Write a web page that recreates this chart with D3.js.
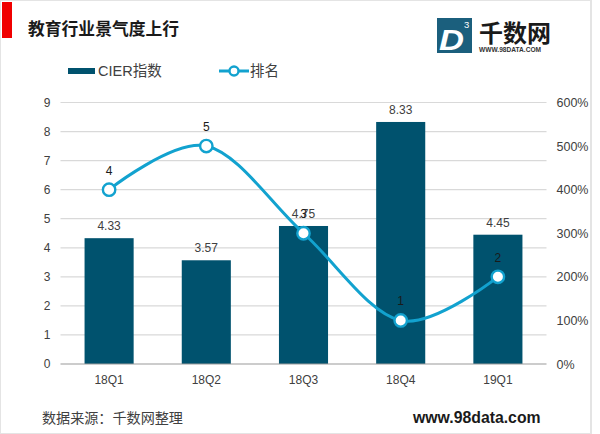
<!DOCTYPE html>
<html>
<head>
<meta charset="utf-8">
<script src="https://cdn.jsdelivr.net/npm/d3@7"></script>
<style>
  body { margin: 0; background: #fff; }
  text { font-family: "Liberation Sans", "Noto Sans CJK SC", sans-serif; fill: #404040; }
</style>
</head>
<body>
<svg id="chart" width="600" height="434"></svg>
<script>
// chart data
var quarters = ["18Q1", "18Q2", "18Q3", "18Q4", "19Q1"];
var cierValues = [4.33, 3.57, 4.75, 8.33, 4.45];
var rankValues = [4, 5, 3, 1, 2];
var rankPct = [400, 500, 300, 100, 200]; // where the rank line sits on the percent axis
var leftTicks = [0, 1, 2, 3, 4, 5, 6, 7, 8, 9];
var rightTicks = [0, 100, 200, 300, 400, 500, 600];

var barColor = "#00526e";
var lineColor = "#12a2cf";

var svg = d3.select("#chart");

// outer frame of the slide
svg.append("rect").attr("x", 0).attr("y", 0).attr("width", 591).attr("height", 434)
  .attr("fill", "none").attr("stroke", "#e4e4e4").attr("stroke-width", 2);

svg.append("rect").attr("x", 2).attr("y", 2).attr("width", 10).attr("height", 36).attr("fill", "#f00000");

svg.append("text").attr("x", 28).attr("y", 35)
  .attr("font-size", 16.8).attr("font-weight", 700).style("fill", "#1a1a1a")
  .text("教育行业景气度上行");

// logo
var logo = svg.append("g");
logo.append("rect").attr("x", 437).attr("y", 18).attr("width", 35).attr("height", 35).attr("fill", "#1b5f7d");
logo.append("text").attr("x", 439).attr("y", 50).attr("font-size", 29).attr("font-weight", 700)
  .attr("font-style", "italic").attr("textLength", 25).attr("lengthAdjust", "spacingAndGlyphs")
  .style("fill", "#fff").text("D");
logo.append("text").attr("x", 464).attr("y", 28).attr("font-size", 9.5).style("fill", "#fff").text("3");
logo.append("text").attr("x", 479).attr("y", 42).attr("font-size", 24).attr("font-weight", 700)
  .style("fill", "#1a1a1a").text("千数网");
logo.append("text").attr("x", 479).attr("y", 52).attr("font-size", 6.6).attr("font-weight", 700)
  .style("fill", "#333").text("WWW.98DATA.COM");

// scales
var x = d3.scaleBand().domain(quarters).range([60.5, 546.5]).paddingInner(0.495).paddingOuter(0.2475);
var y = d3.scaleLinear().domain([0, 9]).range([364, 102.5]);
var y2 = d3.scaleLinear().domain([0, 600]).range([364, 102.5]);
var cx = function(q) { return x(q) + x.bandwidth() / 2; };

// grid
svg.append("g").selectAll("line").data(leftTicks.slice(1)).join("line")
  .attr("x1", 60.5).attr("x2", 546.5)
  .attr("y1", function(d) { return y(d); }).attr("y2", function(d) { return y(d); })
  .attr("stroke", "#d9d9d9").attr("stroke-width", 1.2);

// axes
var leftAxis = svg.append("g").attr("transform", "translate(60.5,0)")
  .call(d3.axisLeft(y).tickValues(leftTicks).tickSize(0).tickPadding(10));
var rightAxis = svg.append("g").attr("transform", "translate(546.5,0)")
  .call(d3.axisRight(y2).tickValues(rightTicks).tickSize(0).tickPadding(10).tickFormat(function(d) { return d + "%"; }));
var bottomAxis = svg.append("g").attr("transform", "translate(0,364)")
  .call(d3.axisBottom(x).tickSize(0).tickPadding(11));
[leftAxis, rightAxis, bottomAxis].forEach(function(a) {
  a.selectAll("text").attr("font-size", 12).style("font-family", "Liberation Sans");
  a.select(".domain").remove();
});
rightAxis.selectAll("text").attr("font-size", 12.5);

// bars
svg.append("g").selectAll("rect").data(quarters).join("rect")
  .attr("x", function(d) { return x(d); })
  .attr("width", x.bandwidth())
  .attr("y", function(d, i) { return y(cierValues[i]); })
  .attr("height", function(d, i) { return y(0) - y(cierValues[i]); })
  .attr("fill", barColor);

svg.append("line").attr("x1", 60.5).attr("x2", 546.5).attr("y1", 364).attr("y2", 364)
  .attr("stroke", "#999").attr("stroke-width", 1.2);

// bar labels
svg.append("g").selectAll("text").data(quarters).join("text")
  .attr("x", cx)
  .attr("y", function(d, i) { return y(cierValues[i]) - 8; })
  .attr("text-anchor", "middle").attr("font-size", 12)
  .text(function(d, i) { return cierValues[i]; });

// rank line
var rankLine = d3.line()
  .x(function(d, i) { return cx(quarters[i]); })
  .y(function(d) { return y2(d); })
  .curve(d3.curveCardinal.tension(0));

svg.append("path").attr("d", rankLine(rankPct)).attr("fill", "none")
  .attr("stroke", lineColor).attr("stroke-width", 3);

svg.append("g").selectAll("circle").data(rankPct).join("circle")
  .attr("cx", function(d, i) { return cx(quarters[i]); })
  .attr("cy", function(d) { return y2(d); })
  .attr("r", 6.2).attr("fill", "#fff").attr("stroke", lineColor).attr("stroke-width", 2.4);

svg.append("g").selectAll("text").data(rankValues).join("text")
  .attr("x", function(d, i) { return cx(quarters[i]); })
  .attr("y", function(d, i) { return y2(rankPct[i]) - 15; })
  .attr("text-anchor", "middle").attr("font-size", 12)
  .style("fill", "#1a1a1a")
  .text(function(d) { return d; });

// legend
svg.append("rect").attr("x", 68).attr("y", 68).attr("width", 27).attr("height", 6).attr("fill", barColor);
svg.append("text").attr("x", 98).attr("y", 76).attr("font-size", 14.5).text("CIER指数");
svg.append("line").attr("x1", 219).attr("x2", 249).attr("y1", 71).attr("y2", 71)
  .attr("stroke", lineColor).attr("stroke-width", 3);
svg.append("circle").attr("cx", 234).attr("cy", 71).attr("r", 4.5)
  .attr("fill", "#fff").attr("stroke", lineColor).attr("stroke-width", 2.4);
svg.append("text").attr("x", 250).attr("y", 76).attr("font-size", 14.5).text("排名");

// footer
svg.append("text").attr("x", 42).attr("y", 422.5).attr("font-size", 14.1).text("数据来源：千数网整理");
svg.append("text").attr("x", 413).attr("y", 422.5).attr("font-size", 15.8).attr("font-weight", 700)
  .style("fill", "#1a1a1a").text("www.98data.com");
</script>
</body>
</html>
